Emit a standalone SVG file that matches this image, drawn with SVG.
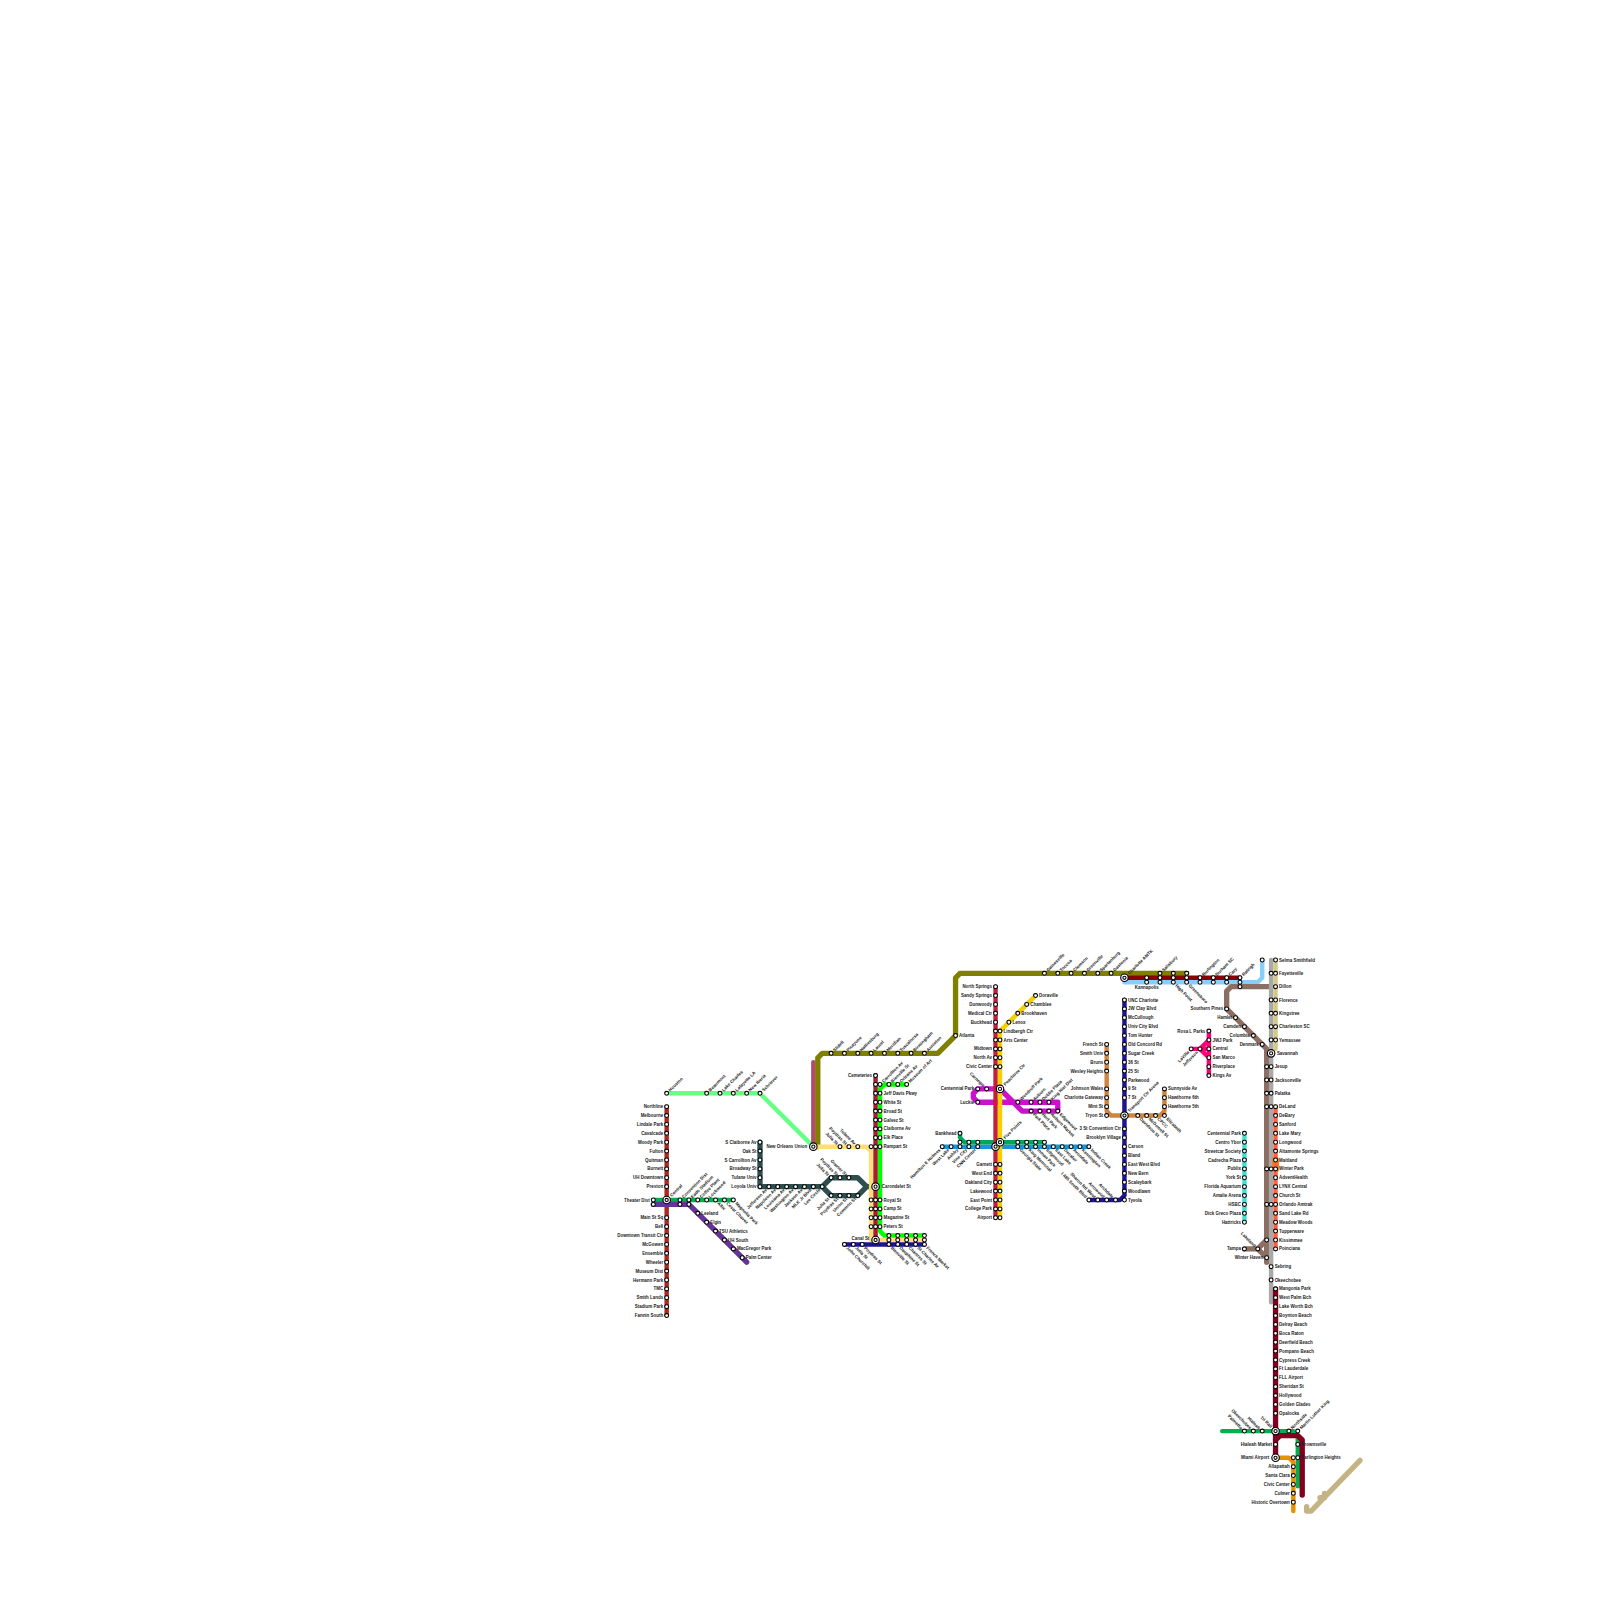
<svg xmlns="http://www.w3.org/2000/svg" width="1600" height="1600" viewBox="0 0 1600 1600">
<style>
text{font-family:"Liberation Sans",Arial,sans-serif;font-size:.5px;font-weight:700;fill:#222}
.e{text-anchor:end}
.c{text-anchor:middle}
.s{fill:#fff;stroke:#000;stroke-width:.12;r:.22px}
.i{fill:#fff;stroke:#000;stroke-width:.13}
.i+.s{r:.18px}
#connectors path{fill:none;stroke-width:.5;stroke-linecap:round;stroke-linejoin:round}
#connectors path.w{stroke-width:.6}
#nodes{opacity:.999}
</style>
<rect width="1600" height="1600" fill="#fff"/>
<g transform="scale(8.8889)">
<g id="connectors">
<path stroke="#a82a20" d="M75 124.5V148"/>
<path stroke="#00b050" d="M73.5 135H82.5"/>
<path class="w" stroke="#663399" d="M73.5 135.5H77.5L84 142"/>
<path stroke="#66ff88" d="M75 123H85.5L91.5 129"/>
<path class="w" stroke="#2f4f4f" d="M85.5 128.5V133.5H92.5L93.5 132.5H96.5L97.5 133.5H98.5M92.5 133.5L93.5 134.5H96.5L97.5 133.5"/>
<path stroke="#b5496f" d="M91.5 129V119.5"/>
<path class="w" stroke="#808000" d="M92 129V119L92.5 118.5H105.5L107.5 116.5V110L108 109.5H133.5"/>
<path stroke="#ffdd77" d="M91.5 129H97.5L98 129.5V139.5H104"/>
<path stroke="#00ff00" d="M102 122H99.5L99 122.5V138.5L99.5 139H104"/>
<path stroke="#a3202e" d="M98.5 121V139.5"/>
<path stroke="#1c1490" d="M95 140H104"/>
<path class="w" stroke="#cc11cc" d="M112.5 122.5H110L109.5 123V123.5L110 124H119V125H116M112.5 122.5L115 125H116"/>
<path stroke="#1b95d8" d="M106 129H122.5"/>
<path stroke="#00a65a" d="M108 127.5V128L108.5 128.5H117.5"/>
<path stroke="#c41e3a" d="M112 111V137"/>
<path stroke="#f5d000" d="M116.5 112L112.5 116V137"/>
<path stroke="#cd853f" d="M124.5 117.5V125L125 125.5H130.5L131 125V122.5"/>
<path stroke="#1c1490" d="M126.5 112.5V134.5L126 135H122.5"/>
<path stroke="#87cefa" d="M126.5 110.5H141.5L142 110V108"/>
<path stroke="#8b0000" d="M126.5 110H139.5"/>
<path stroke="#ff0077" d="M136 116V121M134 118H136M135 118L136 117M135 118L136 119"/>
<path stroke="#40e0d0" d="M140 127.5V137.5"/>
<path class="w" stroke="#8d6e63" d="M143 111H138.5L138 111.5V113.5L142.5 118V142M140 140.5H141.5L142.5 139.5M141.5 140.5L142.6 141.6"/>
<path stroke="#a9a9a9" d="M143 108V146.5"/>
<path stroke="#d4c98a" d="M143.5 108V118"/>
<path stroke="#e69100" style="stroke-width:.8" d="M143.5 130.5V131.5"/>
<path stroke="#ff6347" d="M143.5 124.5V140.5"/>
<path stroke="#00b050" d="M137.5 161H145.5L146 161.5V167.2"/>
<path stroke="#e69100" d="M143.5 164H145L145.5 164.5V170"/>
<path class="w" stroke="#800020" d="M143.5 145V164M143.5 162L144 161.5H146L146.5 162V168.2"/>
<path class="w" stroke="#c4b484" d="M147 169.5V170H147.5L153 164.3M148.5 168.5H149V168"/>
</g>
<g id="nodes">
<g id="h-houston"><circle class="s" cx="75" cy="123" r=".2"/><text transform="translate(75 123) rotate(-45)" x=".42" y=".17">Houston</text></g>
<g id="h-beaumont"><circle class="s" cx="79.5" cy="123" r=".2"/><text transform="translate(79.5 123) rotate(-45)" x=".42" y=".17">Beaumont</text></g>
<g id="h-lake-charles"><circle class="s" cx="81" cy="123" r=".2"/><text transform="translate(81 123) rotate(-45)" x=".42" y=".17">Lake Charles</text></g>
<g id="h-lafayette"><circle class="s" cx="82.5" cy="123" r=".2"/><text transform="translate(82.5 123) rotate(-45)" x=".42" y=".17">Lafayette LA</text></g>
<g id="h-new-iberia"><circle class="s" cx="84" cy="123" r=".2"/><text transform="translate(84 123) rotate(-45)" x=".42" y=".17">New Iberia</text></g>
<g id="h-schriever"><circle class="s" cx="85.5" cy="123" r=".2"/><text transform="translate(85.5 123) rotate(-45)" x=".42" y=".17">Schriever</text></g>
<g id="hr-northline"><circle class="s" cx="75" cy="124.5" r=".2"/><text class="e" x="74.6" y="124.67">Northline</text></g>
<g id="hr-melbourne"><circle class="s" cx="75" cy="125.5" r=".2"/><text class="e" x="74.6" y="125.67">Melbourne</text></g>
<g id="hr-lindale"><circle class="s" cx="75" cy="126.5" r=".2"/><text class="e" x="74.6" y="126.67">Lindale Park</text></g>
<g id="hr-cavalcade"><circle class="s" cx="75" cy="127.5" r=".2"/><text class="e" x="74.6" y="127.67">Cavalcade</text></g>
<g id="hr-moody"><circle class="s" cx="75" cy="128.5" r=".2"/><text class="e" x="74.6" y="128.67">Moody Park</text></g>
<g id="hr-fulton"><circle class="s" cx="75" cy="129.5" r=".2"/><text class="e" x="74.6" y="129.67">Fulton</text></g>
<g id="hr-quitman"><circle class="s" cx="75" cy="130.5" r=".2"/><text class="e" x="74.6" y="130.67">Quitman</text></g>
<g id="hr-burnett"><circle class="s" cx="75" cy="131.5" r=".2"/><text class="e" x="74.6" y="131.67">Burnett</text></g>
<g id="hr-uh-downtown"><circle class="s" cx="75" cy="132.5" r=".2"/><text class="e" x="74.6" y="132.67">UH Downtown</text></g>
<g id="hr-preston"><circle class="s" cx="75" cy="133.5" r=".2"/><text class="e" x="74.6" y="133.67">Preston</text></g>
<g id="hr-main"><circle class="s" cx="75" cy="137" r=".2"/><text class="e" x="74.6" y="137.17">Main St Sq</text></g>
<g id="hr-bell"><circle class="s" cx="75" cy="138" r=".2"/><text class="e" x="74.6" y="138.17">Bell</text></g>
<g id="hr-dtc"><circle class="s" cx="75" cy="139" r=".2"/><text class="e" x="74.6" y="139.17">Downtown Transit Ctr</text></g>
<g id="hr-mcgowen"><circle class="s" cx="75" cy="140" r=".2"/><text class="e" x="74.6" y="140.17">McGowen</text></g>
<g id="hr-ensemble"><circle class="s" cx="75" cy="141" r=".2"/><text class="e" x="74.6" y="141.17">Ensemble</text></g>
<g id="hr-wheeler"><circle class="s" cx="75" cy="142" r=".2"/><text class="e" x="74.6" y="142.17">Wheeler</text></g>
<g id="hr-museum"><circle class="s" cx="75" cy="143" r=".2"/><text class="e" x="74.6" y="143.17">Museum Dist</text></g>
<g id="hr-hermann"><circle class="s" cx="75" cy="144" r=".2"/><text class="e" x="74.6" y="144.17">Hermann Park</text></g>
<g id="hr-tmc"><circle class="s" cx="75" cy="145" r=".2"/><text class="e" x="74.6" y="145.17">TMC</text></g>
<g id="hr-smith"><circle class="s" cx="75" cy="146" r=".2"/><text class="e" x="74.6" y="146.17">Smith Lands</text></g>
<g id="hr-stadium"><circle class="s" cx="75" cy="147" r=".2"/><text class="e" x="74.6" y="147.17">Stadium Park</text></g>
<g id="hr-fannin"><circle class="s" cx="75" cy="148" r=".2"/><text class="e" x="74.6" y="148.17">Fannin South</text></g>
<g id="hr-central"><circle class="i" cx="75" cy="135" r=".42"/><circle class="s" cx="75" cy="135" r=".18"/><text transform="translate(75 135) rotate(-45)" x=".65" y=".17">Central</text></g>
<g id="hg-theater"><circle class="s" cx="73.5" cy="135" r=".2"/><circle class="s" cx="73.5" cy="135.5" r=".2"/><text class="e" x="73.1" y="135.17">Theater Dist</text></g>
<g id="hg-convention"><circle class="s" cx="76.5" cy="135" r=".2"/><circle class="s" cx="76.5" cy="135.5" r=".2"/><text transform="translate(76.5 135) rotate(-45)" x=".42" y=".17">Convention Dist</text></g>
<g id="hg-eado"><circle class="s" cx="77.5" cy="135" r=".2"/><circle class="s" cx="77.5" cy="135.5" r=".2"/><text transform="translate(77.5 135) rotate(-45)" x=".42" y=".17">Eado Stadium</text></g>
<g id="hg-coffee"><circle class="s" cx="78.5" cy="135" r=".2"/><text transform="translate(78.5 135) rotate(-45)" x=".42" y=".17">Coffee Plant</text></g>
<g id="hg-lockwood"><circle class="s" cx="79.5" cy="135" r=".2"/><text transform="translate(79.5 135) rotate(-45)" x=".42" y=".17">Lockwood</text></g>
<g id="hg-altic"><circle class="s" cx="80.5" cy="135" r=".2"/><text transform="translate(80.5 135) rotate(45)" x=".42" y=".17">Altic</text></g>
<g id="hg-cesar"><circle class="s" cx="81.5" cy="135" r=".2"/><text transform="translate(81.5 135) rotate(45)" x=".42" y=".17">Cesar Chavez</text></g>
<g id="hg-magnolia"><circle class="s" cx="82.5" cy="135" r=".2"/><text transform="translate(82.5 135) rotate(45)" x=".42" y=".17">Magnolia Park</text></g>
<g id="hp-leeland"><circle class="s" cx="78.5" cy="136.5" r=".2"/><text x="78.9" y="136.67">Leeland</text></g>
<g id="hp-elgin"><circle class="s" cx="79.5" cy="137.5" r=".2"/><text x="79.9" y="137.67">Elgin</text></g>
<g id="hp-tsu"><circle class="s" cx="80.5" cy="138.5" r=".2"/><text x="80.9" y="138.67">TSU Athletics</text></g>
<g id="hp-uhs"><circle class="s" cx="81.5" cy="139.5" r=".2"/><text x="81.9" y="139.67">UH South</text></g>
<g id="hp-macgregor"><circle class="s" cx="82.5" cy="140.5" r=".2"/><text x="82.9" y="140.67">MacGregor Park</text></g>
<g id="hp-palm"><circle class="s" cx="83.5" cy="141.5" r=".2"/><text x="83.9" y="141.67">Palm Center</text></g>
<g id="no-sclaiborne"><circle class="s" cx="85.5" cy="128.5" r=".2"/><text class="e" x="85.1" y="128.67">S Claiborne Av</text></g>
<g id="no-oak"><circle class="s" cx="85.5" cy="129.5" r=".2"/><text class="e" x="85.1" y="129.67">Oak St</text></g>
<g id="no-carrollton"><circle class="s" cx="85.5" cy="130.5" r=".2"/><text class="e" x="85.1" y="130.67">S Carrollton Av</text></g>
<g id="no-broadway"><circle class="s" cx="85.5" cy="131.5" r=".2"/><text class="e" x="85.1" y="131.67">Broadway St</text></g>
<g id="no-tulane"><circle class="s" cx="85.5" cy="132.5" r=".2"/><text class="e" x="85.1" y="132.67">Tulane Univ</text></g>
<g id="no-loyola"><circle class="s" cx="85.5" cy="133.5" r=".2"/><text class="e" x="85.1" y="133.67">Loyola Univ</text></g>
<g id="no-jefferson"><circle class="s" cx="86.5" cy="133.5" r=".2"/><text class="e" transform="translate(86.5 133.5) rotate(-45)" x="-.42" y=".17">Jefferson Av</text></g>
<g id="no-napoleon"><circle class="s" cx="87.5" cy="133.5" r=".2"/><text class="e" transform="translate(87.5 133.5) rotate(-45)" x="-.42" y=".17">Napoleon Av</text></g>
<g id="no-louisiana"><circle class="s" cx="88.5" cy="133.5" r=".2"/><text class="e" transform="translate(88.5 133.5) rotate(-45)" x="-.42" y=".17">Louisiana Av</text></g>
<g id="no-washington"><circle class="s" cx="89.5" cy="133.5" r=".2"/><text class="e" transform="translate(89.5 133.5) rotate(-45)" x="-.42" y=".17">Washington Av</text></g>
<g id="no-jackson"><circle class="s" cx="90.5" cy="133.5" r=".2"/><text class="e" transform="translate(90.5 133.5) rotate(-45)" x="-.42" y=".17">Jackson Av</text></g>
<g id="no-mlk"><circle class="s" cx="91.5" cy="133.5" r=".2"/><text class="e" transform="translate(91.5 133.5) rotate(-45)" x="-.42" y=".17">MLK Jr Blvd</text></g>
<g id="no-lee"><circle class="s" cx="92.5" cy="133.5" r=".2"/><text class="e" transform="translate(92.5 133.5) rotate(-45)" x="-.42" y=".17">Lee Circle</text></g>
<g id="no-u-julia"><circle class="s" cx="93.5" cy="132.5" r=".2"/><text class="e" transform="translate(93.5 132.5) rotate(45)" x="-.42" y=".17">Julia St</text></g>
<g id="no-u-poydras"><circle class="s" cx="94.5" cy="132.5" r=".2"/><text class="e" transform="translate(94.5 132.5) rotate(45)" x="-.42" y=".17">Poydras St</text></g>
<g id="no-u-gravier"><circle class="s" cx="95.5" cy="132.5" r=".2"/><text class="e" transform="translate(95.5 132.5) rotate(45)" x="-.42" y=".17">Gravier St</text></g>
<g id="no-l-julia"><circle class="s" cx="93.5" cy="134.5" r=".2"/><text class="e" transform="translate(93.5 134.5) rotate(-45)" x="-.42" y=".17">Julia St</text></g>
<g id="no-l-poydras"><circle class="s" cx="94.5" cy="134.5" r=".2"/><text class="e" transform="translate(94.5 134.5) rotate(-45)" x="-.42" y=".17">Poydras St</text></g>
<g id="no-l-union"><circle class="s" cx="95.5" cy="134.5" r=".2"/><text class="e" transform="translate(95.5 134.5) rotate(-45)" x="-.42" y=".17">Union St</text></g>
<g id="no-l-common"><circle class="s" cx="96.5" cy="134.5" r=".2"/><text class="e" transform="translate(96.5 134.5) rotate(-45)" x="-.42" y=".17">Common St</text></g>
<g id="no-union"><circle class="i" cx="91.5" cy="129" r=".42"/><circle class="s" cx="91.5" cy="129" r=".18"/><text class="e" x="90.8" y="129.17">New Orleans Union</text></g>
<g id="no-y-julia"><circle class="s" cx="94.5" cy="129" r=".2"/><text class="e" transform="translate(94.5 129) rotate(45)" x="-.42" y=".17">Julia St</text></g>
<g id="no-y-poydras"><circle class="s" cx="95.5" cy="129" r=".2"/><text class="e" transform="translate(95.5 129) rotate(45)" x="-.42" y=".17">Poydras St</text></g>
<g id="no-y-tulane"><circle class="s" cx="96.5" cy="129" r=".2"/><text class="e" transform="translate(96.5 129) rotate(45)" x="-.42" y=".17">Tulane Av</text></g>
<g id="no-cemeteries"><circle class="s" cx="98.5" cy="121" r=".2"/><text class="e" x="98.1" y="121.17">Cemeteries</text></g>
<g id="no-carrollton-av"><circle class="s" cx="98.5" cy="122" r=".2"/><circle class="s" cx="99" cy="122" r=".2"/><text transform="translate(99 122) rotate(-45)" x=".42" y=".17">Carrollton Av</text></g>
<g id="no-bienville"><circle class="s" cx="100" cy="122" r=".2"/><text transform="translate(100 122) rotate(-45)" x=".42" y=".17">Bienville St</text></g>
<g id="no-orleans"><circle class="s" cx="101" cy="122" r=".2"/><text transform="translate(101 122) rotate(-45)" x=".42" y=".17">Orleans Av</text></g>
<g id="no-museum"><circle class="s" cx="102" cy="122" r=".2"/><text transform="translate(102 122) rotate(-45)" x=".42" y=".17">Museum of Art</text></g>
<g id="no-jeff"><circle class="s" cx="98.5" cy="123" r=".2"/><circle class="s" cx="99" cy="123" r=".2"/><text x="99.4" y="123.17">Jeff Davis Pkwy</text></g>
<g id="no-white"><circle class="s" cx="98.5" cy="124" r=".2"/><circle class="s" cx="99" cy="124" r=".2"/><text x="99.4" y="124.17">White St</text></g>
<g id="no-broad"><circle class="s" cx="98.5" cy="125" r=".2"/><circle class="s" cx="99" cy="125" r=".2"/><text x="99.4" y="125.17">Broad St</text></g>
<g id="no-galvez"><circle class="s" cx="98.5" cy="126" r=".2"/><circle class="s" cx="99" cy="126" r=".2"/><text x="99.4" y="126.17">Galvez St</text></g>
<g id="no-claiborne"><circle class="s" cx="98.5" cy="127" r=".2"/><circle class="s" cx="99" cy="127" r=".2"/><text x="99.4" y="127.17">Claiborne Av</text></g>
<g id="no-elk"><circle class="s" cx="98.5" cy="128" r=".2"/><circle class="s" cx="99" cy="128" r=".2"/><text x="99.4" y="128.17">Elk Place</text></g>
<g id="no-rampart"><circle class="s" cx="98" cy="129" r=".2"/><circle class="s" cx="98.5" cy="129" r=".2"/><circle class="s" cx="99" cy="129" r=".2"/><text x="99.4" y="129.17">Rampart St</text></g>
<g id="no-carondelet"><circle class="i" cx="98.5" cy="133.5" r=".42"/><circle class="s" cx="98.5" cy="133.5" r=".18"/><text x="99.2" y="133.67">Carondelet St</text></g>
<g id="no-royal"><circle class="s" cx="98" cy="135" r=".2"/><circle class="s" cx="98.5" cy="135" r=".2"/><circle class="s" cx="99" cy="135" r=".2"/><text x="99.4" y="135.17">Royal St</text></g>
<g id="no-camp"><circle class="s" cx="98" cy="136" r=".2"/><circle class="s" cx="98.5" cy="136" r=".2"/><circle class="s" cx="99" cy="136" r=".2"/><text x="99.4" y="136.17">Camp St</text></g>
<g id="no-magazine"><circle class="s" cx="98" cy="137" r=".2"/><circle class="s" cx="98.5" cy="137" r=".2"/><circle class="s" cx="99" cy="137" r=".2"/><text x="99.4" y="137.17">Magazine St</text></g>
<g id="no-peters"><circle class="s" cx="98" cy="138" r=".2"/><circle class="s" cx="98.5" cy="138" r=".2"/><circle class="s" cx="99" cy="138" r=".2"/><text x="99.4" y="138.17">Peters St</text></g>
<g id="no-canal"><circle class="i" cx="98.5" cy="139.5" r=".42"/><circle class="s" cx="98.5" cy="139.5" r=".18"/><text class="e" x="97.8" y="139.55">Canal St</text></g>
<g id="no-john"><circle class="s" cx="95" cy="140" r=".2"/><text transform="translate(95 140) rotate(45)" x=".42" y=".17">John Churchill</text></g>
<g id="no-c-julia"><circle class="s" cx="96" cy="140" r=".2"/><text transform="translate(96 140) rotate(45)" x=".42" y=".17">Julia St</text></g>
<g id="no-c-poydras"><circle class="s" cx="97" cy="140" r=".2"/><text transform="translate(97 140) rotate(45)" x=".42" y=".17">Poydras St</text></g>
<g id="no-c-bienville"><circle class="s" cx="100" cy="139" r=".2"/><circle class="s" cx="100" cy="139.5" r=".2"/><circle class="s" cx="100" cy="140" r=".2"/><text transform="translate(100 140) rotate(45)" x=".42" y=".17">Bienville St</text></g>
<g id="no-c-dauphine"><circle class="s" cx="101" cy="139" r=".2"/><circle class="s" cx="101" cy="139.5" r=".2"/><circle class="s" cx="101" cy="140" r=".2"/><text transform="translate(101 140) rotate(45)" x=".42" y=".17">Dauphine St</text></g>
<g id="no-c-chartres"><circle class="s" cx="102" cy="139" r=".2"/><circle class="s" cx="102" cy="139.5" r=".2"/><circle class="s" cx="102" cy="140" r=".2"/><text transform="translate(102 140) rotate(45)" x=".42" y=".17">Chartres St</text></g>
<g id="no-c-stcharles"><circle class="s" cx="103" cy="139" r=".2"/><circle class="s" cx="103" cy="139.5" r=".2"/><circle class="s" cx="103" cy="140" r=".2"/><text transform="translate(103 140) rotate(45)" x=".42" y=".17">St Charles Av</text></g>
<g id="no-c-french"><circle class="s" cx="104" cy="139" r=".2"/><circle class="s" cx="104" cy="139.5" r=".2"/><circle class="s" cx="104" cy="140" r=".2"/><text transform="translate(104 140) rotate(45)" x=".42" y=".17">French Market</text></g>
<g id="c-slidell"><circle class="s" cx="93.5" cy="118.5" r=".2"/><text transform="translate(93.5 118.5) rotate(-45)" x=".42" y=".17">Slidell</text></g>
<g id="c-picayune"><circle class="s" cx="95" cy="118.5" r=".2"/><text transform="translate(95 118.5) rotate(-45)" x=".42" y=".17">Picayune</text></g>
<g id="c-hattiesburg"><circle class="s" cx="96.5" cy="118.5" r=".2"/><text transform="translate(96.5 118.5) rotate(-45)" x=".42" y=".17">Hattiesburg</text></g>
<g id="c-laurel"><circle class="s" cx="98" cy="118.5" r=".2"/><text transform="translate(98 118.5) rotate(-45)" x=".42" y=".17">Laurel</text></g>
<g id="c-meridian"><circle class="s" cx="99.5" cy="118.5" r=".2"/><text transform="translate(99.5 118.5) rotate(-45)" x=".42" y=".17">Meridian</text></g>
<g id="c-tuscaloosa"><circle class="s" cx="101" cy="118.5" r=".2"/><text transform="translate(101 118.5) rotate(-45)" x=".42" y=".17">Tuscaloosa</text></g>
<g id="c-birmingham"><circle class="s" cx="102.5" cy="118.5" r=".2"/><text transform="translate(102.5 118.5) rotate(-45)" x=".42" y=".17">Birmingham</text></g>
<g id="c-anniston"><circle class="s" cx="104" cy="118.5" r=".2"/><text transform="translate(104 118.5) rotate(-45)" x=".42" y=".17">Anniston</text></g>
<g id="c-atlanta"><circle class="s" cx="107.5" cy="116.5" r=".2"/><text x="107.9" y="116.67">Atlanta</text></g>
<g id="c-gainesville"><circle class="s" cx="117.5" cy="109.5" r=".2"/><text transform="translate(117.5 109.5) rotate(-45)" x=".42" y=".17">Gainesville</text></g>
<g id="c-toccoa"><circle class="s" cx="119" cy="109.5" r=".2"/><text transform="translate(119 109.5) rotate(-45)" x=".42" y=".17">Toccoa</text></g>
<g id="c-clemson"><circle class="s" cx="120.5" cy="109.5" r=".2"/><text transform="translate(120.5 109.5) rotate(-45)" x=".42" y=".17">Clemson</text></g>
<g id="c-greenville"><circle class="s" cx="122" cy="109.5" r=".2"/><text transform="translate(122 109.5) rotate(-45)" x=".42" y=".17">Greenville</text></g>
<g id="c-spartanburg"><circle class="s" cx="123.5" cy="109.5" r=".2"/><text transform="translate(123.5 109.5) rotate(-45)" x=".42" y=".17">Spartanburg</text></g>
<g id="c-gastonia"><circle class="s" cx="125" cy="109.5" r=".2"/><text transform="translate(125 109.5) rotate(-45)" x=".42" y=".17">Gastonia</text></g>
<g id="c-charlotte"><circle class="i" cx="126.5" cy="110" r=".42"/><circle class="s" cx="126.5" cy="110" r=".18"/><text transform="translate(126.5 110) rotate(-45)" x=".65" y=".17">Charlotte AMTK</text></g>
<g id="c-kannapolis"><circle class="s" cx="129" cy="110" r=".2"/><circle class="s" cx="129" cy="110.5" r=".2"/><text class="c" x="129" y="111.25">Kannapolis</text></g>
<g id="c-salisbury"><circle class="s" cx="130.5" cy="109.5" r=".2"/><circle class="s" cx="130.5" cy="110" r=".2"/><circle class="s" cx="130.5" cy="110.5" r=".2"/><text transform="translate(130.5 109.5) rotate(-45)" x=".42" y=".17">Salisbury</text></g>
<g id="c-highpoint"><circle class="s" cx="132" cy="109.5" r=".2"/><circle class="s" cx="132" cy="110" r=".2"/><circle class="s" cx="132" cy="110.5" r=".2"/><text transform="translate(132 110.5) rotate(45)" x=".42" y=".17">High Point</text></g>
<g id="c-greensboro"><circle class="s" cx="133.5" cy="109.5" r=".2"/><circle class="s" cx="133.5" cy="110" r=".2"/><circle class="s" cx="133.5" cy="110.5" r=".2"/><text transform="translate(133.5 110.5) rotate(45)" x=".42" y=".17">Greensboro</text></g>
<g id="c-burlington"><circle class="s" cx="135" cy="110" r=".2"/><circle class="s" cx="135" cy="110.5" r=".2"/><text transform="translate(135 110) rotate(-45)" x=".42" y=".17">Burlington</text></g>
<g id="c-durham"><circle class="s" cx="136.5" cy="110" r=".2"/><circle class="s" cx="136.5" cy="110.5" r=".2"/><text transform="translate(136.5 110) rotate(-45)" x=".42" y=".17">Durham SC</text></g>
<g id="c-cary"><circle class="s" cx="138" cy="110" r=".2"/><circle class="s" cx="138" cy="110.5" r=".2"/><text transform="translate(138 110) rotate(-45)" x=".42" y=".17">Cary</text></g>
<g id="c-raleigh"><circle class="s" cx="139.5" cy="110" r=".2"/><circle class="s" cx="139.5" cy="110.5" r=".2"/><circle class="s" cx="139.5" cy="111" r=".2"/><text transform="translate(139.5 110) rotate(-45)" x=".42" y=".17">Raleigh</text></g>
<g id="a-north-springs"><circle class="s" cx="112" cy="111" r=".2"/><text class="e" x="111.6" y="111.17">North Springs</text></g>
<g id="a-sandy"><circle class="s" cx="112" cy="112" r=".2"/><text class="e" x="111.6" y="112.17">Sandy Springs</text></g>
<g id="a-dunwoody"><circle class="s" cx="112" cy="113" r=".2"/><text class="e" x="111.6" y="113.17">Dunwoody</text></g>
<g id="a-medical"><circle class="s" cx="112" cy="114" r=".2"/><text class="e" x="111.6" y="114.17">Medical Ctr</text></g>
<g id="a-buckhead"><circle class="s" cx="112" cy="115" r=".2"/><text class="e" x="111.6" y="115.17">Buckhead</text></g>
<g id="a-doraville"><circle class="s" cx="116.5" cy="112" r=".2"/><text x="116.9" y="112.17">Doraville</text></g>
<g id="a-chamblee"><circle class="s" cx="115.5" cy="113" r=".2"/><text x="115.9" y="113.17">Chamblee</text></g>
<g id="a-brookhaven"><circle class="s" cx="114.5" cy="114" r=".2"/><text x="114.9" y="114.17">Brookhaven</text></g>
<g id="a-lenox"><circle class="s" cx="113.5" cy="115" r=".2"/><text x="113.9" y="115.17">Lenox</text></g>
<g id="a-lindbergh"><circle class="s" cx="112" cy="116" r=".2"/><circle class="s" cx="112.5" cy="116" r=".2"/><text x="112.9" y="116.17">Lindbergh Ctr</text></g>
<g id="a-arts"><circle class="s" cx="112" cy="117" r=".2"/><circle class="s" cx="112.5" cy="117" r=".2"/><text x="112.9" y="117.17">Arts Center</text></g>
<g id="a-midtown"><circle class="s" cx="112" cy="118" r=".2"/><circle class="s" cx="112.5" cy="118" r=".2"/><text class="e" x="111.6" y="118.17">Midtown</text></g>
<g id="a-northav"><circle class="s" cx="112" cy="119" r=".2"/><circle class="s" cx="112.5" cy="119" r=".2"/><text class="e" x="111.6" y="119.17">North Av</text></g>
<g id="a-civic"><circle class="s" cx="112" cy="120" r=".2"/><circle class="s" cx="112.5" cy="120" r=".2"/><text class="e" x="111.6" y="120.17">Civic Center</text></g>
<g id="a-peachtree"><circle class="i" cx="112.5" cy="122.5" r=".42"/><circle class="s" cx="112.5" cy="122.5" r=".18"/><text transform="translate(112.5 122.5) rotate(-45)" x=".65" y=".17">Peachtree Ctr</text></g>
<g id="a-centennial"><circle class="s" cx="110" cy="122.5" r=".2"/><text class="e" x="109.6" y="122.67">Centennial Park</text></g>
<g id="a-carnegie"><circle class="s" cx="111" cy="122.5" r=".2"/><text class="e" transform="translate(111 122.5) rotate(45)" x="-.42" y=".17">Carnegie</text></g>
<g id="a-luckie"><circle class="s" cx="110" cy="124" r=".2"/><text class="e" x="109.6" y="124.17">Luckie</text></g>
<g id="a-woodruff"><circle class="s" cx="114.5" cy="124" r=".2"/><text transform="translate(114.5 124) rotate(-45)" x=".42" y=".17">Woodruff Park</text></g>
<g id="a-auburn"><circle class="s" cx="116" cy="124" r=".2"/><text transform="translate(116 124) rotate(-45)" x=".42" y=".17">Auburn</text></g>
<g id="a-dobbs"><circle class="s" cx="117" cy="124" r=".2"/><text transform="translate(117 124) rotate(-45)" x=".42" y=".17">Dobbs Plaza</text></g>
<g id="a-king"><circle class="s" cx="118" cy="124" r=".2"/><text transform="translate(118 124) rotate(-45)" x=".42" y=".17">King Hist Dist</text></g>
<g id="a-parkplace"><circle class="s" cx="116" cy="125" r=".2"/><text transform="translate(116 125) rotate(45)" x=".42" y=".17">Park Place</text></g>
<g id="a-hurt"><circle class="s" cx="117" cy="125" r=".2"/><text transform="translate(117 125) rotate(45)" x=".42" y=".17">Hurt Park</text></g>
<g id="a-market"><circle class="s" cx="118" cy="125" r=".2"/><text transform="translate(118 125) rotate(45)" x=".42" y=".17">Auburn Market</text></g>
<g id="a-edgewood"><circle class="s" cx="119" cy="125" r=".2"/><text transform="translate(119 125) rotate(45)" x=".42" y=".17">Edgewood</text></g>
<g id="a-bankhead"><circle class="s" cx="108" cy="127.5" r=".2"/><text class="e" x="107.6" y="127.67">Bankhead</text></g>
<g id="a-hamilton"><circle class="s" cx="106" cy="129" r=".2"/><text class="e" transform="translate(106 129) rotate(-45)" x="-.42" y=".17">Hamilton E Holmes</text></g>
<g id="a-westlake"><circle class="s" cx="107" cy="129" r=".2"/><text class="e" transform="translate(107 129) rotate(-45)" x="-.42" y=".17">West Lake</text></g>
<g id="a-ashby"><circle class="s" cx="108" cy="128.5" r=".2"/><circle class="s" cx="108" cy="129" r=".2"/><text class="e" transform="translate(108 129) rotate(-45)" x="-.42" y=".17">Ashby</text></g>
<g id="a-vinecity"><circle class="s" cx="109" cy="128.5" r=".2"/><circle class="s" cx="109" cy="129" r=".2"/><text class="e" transform="translate(109 129) rotate(-45)" x="-.42" y=".17">Vine City</text></g>
<g id="a-cnn"><circle class="s" cx="110" cy="128.5" r=".2"/><circle class="s" cx="110" cy="129" r=".2"/><text class="e" transform="translate(110 129) rotate(-45)" x="-.42" y=".17">CNN Center</text></g>
<g id="a-fivepoints"><circle class="i" cx="112" cy="129" r=".42"/><circle class="s" cx="112" cy="129" r=".18"/><circle class="i" cx="112.5" cy="128.5" r=".42"/><circle class="s" cx="112.5" cy="128.5" r=".18"/><text transform="translate(112.5 128.5) rotate(-45)" x=".65" y=".17">Five Points</text></g>
<g id="a-georgia"><circle class="s" cx="114.5" cy="128.5" r=".2"/><circle class="s" cx="114.5" cy="129" r=".2"/><text transform="translate(114.5 129) rotate(45)" x=".42" y=".17">Georgia State</text></g>
<g id="a-kingmem"><circle class="s" cx="115.5" cy="128.5" r=".2"/><circle class="s" cx="115.5" cy="129" r=".2"/><text transform="translate(115.5 129) rotate(45)" x=".42" y=".17">King Memorial</text></g>
<g id="a-inman"><circle class="s" cx="116.5" cy="128.5" r=".2"/><circle class="s" cx="116.5" cy="129" r=".2"/><text transform="translate(116.5 129) rotate(45)" x=".42" y=".17">Inman Park</text></g>
<g id="a-edgewood2"><circle class="s" cx="117.5" cy="128.5" r=".2"/><circle class="s" cx="117.5" cy="129" r=".2"/><text transform="translate(117.5 129) rotate(45)" x=".42" y=".17">Edgewood</text></g>
<g id="a-eastlake"><circle class="s" cx="118.5" cy="129" r=".2"/><text transform="translate(118.5 129) rotate(45)" x=".42" y=".17">East Lake</text></g>
<g id="a-decatur"><circle class="s" cx="119.5" cy="129" r=".2"/><text transform="translate(119.5 129) rotate(45)" x=".42" y=".17">Decatur</text></g>
<g id="a-avondale"><circle class="s" cx="120.5" cy="129" r=".2"/><text transform="translate(120.5 129) rotate(45)" x=".42" y=".17">Avondale</text></g>
<g id="a-kensington"><circle class="s" cx="121.5" cy="129" r=".2"/><text transform="translate(121.5 129) rotate(45)" x=".42" y=".17">Kensington</text></g>
<g id="a-indian"><circle class="s" cx="122.5" cy="129" r=".2"/><text transform="translate(122.5 129) rotate(45)" x=".42" y=".17">Indian Creek</text></g>
<g id="a-garnett"><circle class="s" cx="112" cy="131" r=".2"/><circle class="s" cx="112.5" cy="131" r=".2"/><text class="e" x="111.6" y="131.17">Garnett</text></g>
<g id="a-westend"><circle class="s" cx="112" cy="132" r=".2"/><circle class="s" cx="112.5" cy="132" r=".2"/><text class="e" x="111.6" y="132.17">West End</text></g>
<g id="a-oakland"><circle class="s" cx="112" cy="133" r=".2"/><circle class="s" cx="112.5" cy="133" r=".2"/><text class="e" x="111.6" y="133.17">Oakland City</text></g>
<g id="a-lakewood"><circle class="s" cx="112" cy="134" r=".2"/><circle class="s" cx="112.5" cy="134" r=".2"/><text class="e" x="111.6" y="134.17">Lakewood</text></g>
<g id="a-eastpoint"><circle class="s" cx="112" cy="135" r=".2"/><circle class="s" cx="112.5" cy="135" r=".2"/><text class="e" x="111.6" y="135.17">East Point</text></g>
<g id="a-college"><circle class="s" cx="112" cy="136" r=".2"/><circle class="s" cx="112.5" cy="136" r=".2"/><text class="e" x="111.6" y="136.17">College Park</text></g>
<g id="a-airport"><circle class="s" cx="112" cy="137" r=".2"/><circle class="s" cx="112.5" cy="137" r=".2"/><text class="e" x="111.6" y="137.17">Airport</text></g>
<g id="l-french"><circle class="s" cx="124.5" cy="117.5" r=".2"/><text class="e" x="124.1" y="117.67">French St</text></g>
<g id="l-smith"><circle class="s" cx="124.5" cy="118.5" r=".2"/><text class="e" x="124.1" y="118.67">Smith Univ</text></g>
<g id="l-bruns"><circle class="s" cx="124.5" cy="119.5" r=".2"/><text class="e" x="124.1" y="119.67">Bruns</text></g>
<g id="l-wesley"><circle class="s" cx="124.5" cy="120.5" r=".2"/><text class="e" x="124.1" y="120.67">Wesley Heights</text></g>
<g id="l-johnson"><circle class="s" cx="124.5" cy="122.5" r=".2"/><text class="e" x="124.1" y="122.67">Johnson Wales</text></g>
<g id="l-gateway"><circle class="s" cx="124.5" cy="123.5" r=".2"/><text class="e" x="124.1" y="123.67">Charlotte Gateway</text></g>
<g id="l-mint"><circle class="s" cx="124.5" cy="124.5" r=".2"/><text class="e" x="124.1" y="124.67">Mint St</text></g>
<g id="l-tryon"><circle class="s" cx="124.5" cy="125.5" r=".2"/><text class="e" x="124.1" y="125.67">Tryon St</text></g>
<g id="l-unc"><circle class="s" cx="126.5" cy="112.5" r=".2"/><text x="126.9" y="112.67">UNC Charlotte</text></g>
<g id="l-jw"><circle class="s" cx="126.5" cy="113.5" r=".2"/><text x="126.9" y="113.67">JW Clay Blvd</text></g>
<g id="l-mccullough"><circle class="s" cx="126.5" cy="114.5" r=".2"/><text x="126.9" y="114.67">McCullough</text></g>
<g id="l-univ"><circle class="s" cx="126.5" cy="115.5" r=".2"/><text x="126.9" y="115.67">Univ City Blvd</text></g>
<g id="l-tom"><circle class="s" cx="126.5" cy="116.5" r=".2"/><text x="126.9" y="116.67">Tom Hunter</text></g>
<g id="l-concord"><circle class="s" cx="126.5" cy="117.5" r=".2"/><text x="126.9" y="117.67">Old Concord Rd</text></g>
<g id="l-sugar"><circle class="s" cx="126.5" cy="118.5" r=".2"/><text x="126.9" y="118.67">Sugar Creek</text></g>
<g id="l-36"><circle class="s" cx="126.5" cy="119.5" r=".2"/><text x="126.9" y="119.67">36 St</text></g>
<g id="l-25"><circle class="s" cx="126.5" cy="120.5" r=".2"/><text x="126.9" y="120.67">25 St</text></g>
<g id="l-parkwood"><circle class="s" cx="126.5" cy="121.5" r=".2"/><text x="126.9" y="121.67">Parkwood</text></g>
<g id="l-9"><circle class="s" cx="126.5" cy="122.5" r=".2"/><text x="126.9" y="122.67">9 St</text></g>
<g id="l-7"><circle class="s" cx="126.5" cy="123.5" r=".2"/><text x="126.9" y="123.67">7 St</text></g>
<g id="l-transport"><circle class="i" cx="126.5" cy="125.5" r=".42"/><circle class="s" cx="126.5" cy="125.5" r=".18"/><text transform="translate(126.5 125.5) rotate(-45)" x=".65" y=".17">Transport Ctr Arena</text></g>
<g id="l-3"><circle class="s" cx="126.5" cy="127" r=".2"/><text class="e" x="126.1" y="127.17">3 St Convention Ctr</text></g>
<g id="l-brooklyn"><circle class="s" cx="126.5" cy="128" r=".2"/><text class="e" x="126.1" y="128.17">Brooklyn Village</text></g>
<g id="l-carson"><circle class="s" cx="126.5" cy="129" r=".2"/><text x="126.9" y="129.17">Carson</text></g>
<g id="l-bland"><circle class="s" cx="126.5" cy="130" r=".2"/><text x="126.9" y="130.17">Bland</text></g>
<g id="l-eastwest"><circle class="s" cx="126.5" cy="131" r=".2"/><text x="126.9" y="131.17">East West Blvd</text></g>
<g id="l-newbern"><circle class="s" cx="126.5" cy="132" r=".2"/><text x="126.9" y="132.17">New Bern</text></g>
<g id="l-scaleybark"><circle class="s" cx="126.5" cy="133" r=".2"/><text x="126.9" y="133.17">Scaleybark</text></g>
<g id="l-woodlawn"><circle class="s" cx="126.5" cy="134" r=".2"/><text x="126.9" y="134.17">Woodlawn</text></g>
<g id="l-tyvola"><circle class="s" cx="126.5" cy="135" r=".2"/><text x="126.9" y="135.17">Tyvola</text></g>
<g id="l-archdale"><circle class="s" cx="125.5" cy="135" r=".2"/><text class="e" transform="translate(125.5 135) rotate(45)" x="-.42" y=".17">Archdale</text></g>
<g id="l-arrowood"><circle class="s" cx="124.5" cy="135" r=".2"/><text class="e" transform="translate(124.5 135) rotate(45)" x="-.42" y=".17">Arrowood</text></g>
<g id="l-sharon"><circle class="s" cx="123.5" cy="135" r=".2"/><text class="e" transform="translate(123.5 135) rotate(45)" x="-.42" y=".17">Sharon Rd West</text></g>
<g id="l-i485"><circle class="s" cx="122.5" cy="135" r=".2"/><text class="e" transform="translate(122.5 135) rotate(45)" x="-.42" y=".17">I 485 South Blvd</text></g>
<g id="l-davidson"><circle class="s" cx="128" cy="125.5" r=".2"/><text transform="translate(128 125.5) rotate(45)" x=".42" y=".17">Davidson St</text></g>
<g id="l-mcdowell"><circle class="s" cx="129" cy="125.5" r=".2"/><text transform="translate(129 125.5) rotate(45)" x=".42" y=".17">McDowell St</text></g>
<g id="l-cpcc"><circle class="s" cx="130" cy="125.5" r=".2"/><text transform="translate(130 125.5) rotate(45)" x=".42" y=".17">CPCC</text></g>
<g id="l-elizabeth"><circle class="s" cx="131" cy="125.5" r=".2"/><text transform="translate(131 125.5) rotate(45)" x=".42" y=".17">Elizabeth</text></g>
<g id="l-haw5"><circle class="s" cx="131" cy="124.5" r=".2"/><text x="131.4" y="124.67">Hawthorne 5th</text></g>
<g id="l-haw6"><circle class="s" cx="131" cy="123.5" r=".2"/><text x="131.4" y="123.67">Hawthorne 6th</text></g>
<g id="l-sunnyside"><circle class="s" cx="131" cy="122.5" r=".2"/><text x="131.4" y="122.67">Sunnyside Av</text></g>
<g id="j-rosa"><circle class="s" cx="136" cy="116" r=".2"/><text class="e" x="135.6" y="116.17">Rosa L Parks</text></g>
<g id="j-jwj"><circle class="s" cx="136" cy="117" r=".2"/><text x="136.4" y="117.17">JWJ Park</text></g>
<g id="j-central"><circle class="s" cx="136" cy="118" r=".2"/><text x="136.4" y="118.17">Central</text></g>
<g id="j-sanmarco"><circle class="s" cx="136" cy="119" r=".2"/><text x="136.4" y="119.17">San Marco</text></g>
<g id="j-riverplace"><circle class="s" cx="136" cy="120" r=".2"/><text x="136.4" y="120.17">Riverplace</text></g>
<g id="j-kings"><circle class="s" cx="136" cy="121" r=".2"/><text x="136.4" y="121.17">Kings Av</text></g>
<g id="j-jefferson"><circle class="s" cx="135" cy="118" r=".2"/><text class="e" transform="translate(135 118) rotate(-45)" x="-.42" y=".17">Jefferson</text></g>
<g id="j-lavilla"><circle class="s" cx="134" cy="118" r=".2"/><text class="e" transform="translate(134 118) rotate(-45)" x="-.42" y=".17">LaVilla</text></g>
<g id="t-centennial"><circle class="s" cx="140" cy="127.5" r=".2"/><text class="e" x="139.6" y="127.67">Centennial Park</text></g>
<g id="t-ybor"><circle class="s" cx="140" cy="128.5" r=".2"/><text class="e" x="139.6" y="128.67">Centro Ybor</text></g>
<g id="t-streetcar"><circle class="s" cx="140" cy="129.5" r=".2"/><text class="e" x="139.6" y="129.67">Streetcar Society</text></g>
<g id="t-cadrecha"><circle class="s" cx="140" cy="130.5" r=".2"/><text class="e" x="139.6" y="130.67">Cadrecha Plaza</text></g>
<g id="t-publix"><circle class="s" cx="140" cy="131.5" r=".2"/><text class="e" x="139.6" y="131.67">Publix</text></g>
<g id="t-york"><circle class="s" cx="140" cy="132.5" r=".2"/><text class="e" x="139.6" y="132.67">York St</text></g>
<g id="t-aquarium"><circle class="s" cx="140" cy="133.5" r=".2"/><text class="e" x="139.6" y="133.67">Florida Aquarium</text></g>
<g id="t-amalie"><circle class="s" cx="140" cy="134.5" r=".2"/><text class="e" x="139.6" y="134.67">Amalie Arena</text></g>
<g id="t-hsbc"><circle class="s" cx="140" cy="135.5" r=".2"/><text class="e" x="139.6" y="135.67">HSBC</text></g>
<g id="t-greco"><circle class="s" cx="140" cy="136.5" r=".2"/><text class="e" x="139.6" y="136.67">Dick Greco Plaza</text></g>
<g id="t-hattricks"><circle class="s" cx="140" cy="137.5" r=".2"/><text class="e" x="139.6" y="137.67">Hattricks</text></g>
<g id="s-southern"><circle class="s" cx="138" cy="113.5" r=".2"/><text class="e" x="137.6" y="113.67">Southern Pines</text></g>
<g id="s-hamlet"><circle class="s" cx="139" cy="114.5" r=".2"/><text class="e" x="138.6" y="114.67">Hamlet</text></g>
<g id="s-camden"><circle class="s" cx="140" cy="115.5" r=".2"/><text class="e" x="139.6" y="115.67">Camden</text></g>
<g id="s-columbia"><circle class="s" cx="141" cy="116.5" r=".2"/><text class="e" x="140.6" y="116.67">Columbia</text></g>
<g id="s-denmark"><circle class="s" cx="142" cy="117.5" r=".2"/><text class="e" x="141.6" y="117.67">Denmark</text></g>
<g id="s-selma"><circle class="s" cx="142" cy="108" r=".2"/><circle class="s" cx="143.5" cy="108" r=".2"/><text x="143.9" y="108.17">Selma Smithfield</text></g>
<g id="s-fayetteville"><circle class="s" cx="143" cy="109.5" r=".2"/><circle class="s" cx="143.5" cy="109.5" r=".2"/><text x="143.9" y="109.67">Fayetteville</text></g>
<g id="s-dillon"><circle class="s" cx="143.5" cy="111" r=".2"/><text x="143.9" y="111.17">Dillon</text></g>
<g id="s-florence"><circle class="s" cx="143" cy="112.5" r=".2"/><circle class="s" cx="143.5" cy="112.5" r=".2"/><text x="143.9" y="112.67">Florence</text></g>
<g id="s-kingstree"><circle class="s" cx="143" cy="114" r=".2"/><circle class="s" cx="143.5" cy="114" r=".2"/><text x="143.9" y="114.17">Kingstree</text></g>
<g id="s-charleston"><circle class="s" cx="143" cy="115.5" r=".2"/><circle class="s" cx="143.5" cy="115.5" r=".2"/><text x="143.9" y="115.67">Charleston SC</text></g>
<g id="s-yemassee"><circle class="s" cx="143" cy="117" r=".2"/><circle class="s" cx="143.5" cy="117" r=".2"/><text x="143.9" y="117.17">Yemassee</text></g>
<g id="s-savannah"><circle class="i" cx="143" cy="118.5" r=".42"/><circle class="s" cx="143" cy="118.5" r=".18"/><text x="143.65" y="118.67">Savannah</text></g>
<g id="s-jesup"><circle class="s" cx="142.5" cy="120" r=".2"/><circle class="s" cx="143" cy="120" r=".2"/><text x="143.4" y="120.17">Jesup</text></g>
<g id="s-jacksonville"><circle class="s" cx="142.5" cy="121.5" r=".2"/><circle class="s" cx="143" cy="121.5" r=".2"/><text x="143.4" y="121.67">Jacksonville</text></g>
<g id="s-palatka"><circle class="s" cx="142.5" cy="123" r=".2"/><circle class="s" cx="143" cy="123" r=".2"/><text x="143.4" y="123.17">Palatka</text></g>
<g id="s-deland"><circle class="s" cx="142.5" cy="124.5" r=".2"/><circle class="s" cx="143" cy="124.5" r=".2"/><circle class="s" cx="143.5" cy="124.5" r=".2"/><text x="143.9" y="124.67">DeLand</text></g>
<g id="s-debary"><circle class="s" cx="143.5" cy="125.5" r=".2"/><text x="143.9" y="125.67">DeBary</text></g>
<g id="s-sanford"><circle class="s" cx="143.5" cy="126.5" r=".2"/><text x="143.9" y="126.67">Sanford</text></g>
<g id="s-lakemary"><circle class="s" cx="143.5" cy="127.5" r=".2"/><text x="143.9" y="127.67">Lake Mary</text></g>
<g id="s-longwood"><circle class="s" cx="143.5" cy="128.5" r=".2"/><text x="143.9" y="128.67">Longwood</text></g>
<g id="s-altamonte"><circle class="s" cx="143.5" cy="129.5" r=".2"/><text x="143.9" y="129.67">Altamonte Springs</text></g>
<g id="s-maitland"><circle class="s" cx="143.5" cy="130.5" r=".2"/><text x="143.9" y="130.67">Maitland</text></g>
<g id="s-winterpark"><circle class="s" cx="142.5" cy="131.5" r=".2"/><circle class="s" cx="143" cy="131.5" r=".2"/><circle class="s" cx="143.5" cy="131.5" r=".2"/><text x="143.9" y="131.67">Winter Park</text></g>
<g id="s-advent"><circle class="s" cx="143.5" cy="132.5" r=".2"/><text x="143.9" y="132.67">AdventHealth</text></g>
<g id="s-lynx"><circle class="s" cx="143.5" cy="133.5" r=".2"/><text x="143.9" y="133.67">LYNX Central</text></g>
<g id="s-church"><circle class="s" cx="143.5" cy="134.5" r=".2"/><text x="143.9" y="134.67">Church St</text></g>
<g id="s-orlando"><circle class="s" cx="142.5" cy="135.5" r=".2"/><circle class="s" cx="143" cy="135.5" r=".2"/><circle class="s" cx="143.5" cy="135.5" r=".2"/><text x="143.9" y="135.67">Orlando Amtrak</text></g>
<g id="s-sandlake"><circle class="s" cx="143.5" cy="136.5" r=".2"/><text x="143.9" y="136.67">Sand Lake Rd</text></g>
<g id="s-meadow"><circle class="s" cx="143.5" cy="137.5" r=".2"/><text x="143.9" y="137.67">Meadow Woods</text></g>
<g id="s-tupperware"><circle class="s" cx="143.5" cy="138.5" r=".2"/><text x="143.9" y="138.67">Tupperware</text></g>
<g id="s-kissimmee"><circle class="s" cx="143.5" cy="139.5" r=".2"/><text x="143.9" y="139.67">Kissimmee</text></g>
<g id="s-poinciana"><circle class="s" cx="143.5" cy="140.5" r=".2"/><text x="143.9" y="140.67">Poinciana</text></g>
<g id="s-lakeland-n"><circle class="s" cx="142.5" cy="139.5" r=".2"/></g>
<g id="s-lakeland"><circle class="s" cx="141.5" cy="140.5" r=".2"/><text class="e" transform="translate(141.5 140.5) rotate(45)" x="-.42" y=".17">Lakeland</text></g>
<g id="s-tampa"><circle class="s" cx="140" cy="140.5" r=".2"/><text class="e" x="139.6" y="140.67">Tampa</text></g>
<g id="s-winterhaven"><circle class="s" cx="142.5" cy="141.5" r=".2"/><text class="e" x="142.1" y="141.67">Winter Haven</text></g>
<g id="s-sebring"><circle class="s" cx="143" cy="142.5" r=".2"/><text x="143.4" y="142.67">Sebring</text></g>
<g id="s-okeechobee"><circle class="s" cx="143" cy="144" r=".2"/><text x="143.4" y="144.17">Okeechobee</text></g>
<g id="f-mangonia"><circle class="s" cx="143.5" cy="145" r=".2"/><text x="143.9" y="145.17">Mangonia Park</text></g>
<g id="f-wpb"><circle class="s" cx="143.5" cy="146" r=".2"/><text x="143.9" y="146.17">West Palm Bch</text></g>
<g id="f-lakeworth"><circle class="s" cx="143.5" cy="147" r=".2"/><text x="143.9" y="147.17">Lake Worth Bch</text></g>
<g id="f-boynton"><circle class="s" cx="143.5" cy="148" r=".2"/><text x="143.9" y="148.17">Boynton Beach</text></g>
<g id="f-delray"><circle class="s" cx="143.5" cy="149" r=".2"/><text x="143.9" y="149.17">Delray Beach</text></g>
<g id="f-boca"><circle class="s" cx="143.5" cy="150" r=".2"/><text x="143.9" y="150.17">Boca Raton</text></g>
<g id="f-deerfield"><circle class="s" cx="143.5" cy="151" r=".2"/><text x="143.9" y="151.17">Deerfield Beach</text></g>
<g id="f-pompano"><circle class="s" cx="143.5" cy="152" r=".2"/><text x="143.9" y="152.17">Pompano Beach</text></g>
<g id="f-cypress"><circle class="s" cx="143.5" cy="153" r=".2"/><text x="143.9" y="153.17">Cypress Creek</text></g>
<g id="f-ftl"><circle class="s" cx="143.5" cy="154" r=".2"/><text x="143.9" y="154.17">Ft Lauderdale</text></g>
<g id="f-fll"><circle class="s" cx="143.5" cy="155" r=".2"/><text x="143.9" y="155.17">FLL Airport</text></g>
<g id="f-sheridan"><circle class="s" cx="143.5" cy="156" r=".2"/><text x="143.9" y="156.17">Sheridan St</text></g>
<g id="f-hollywood"><circle class="s" cx="143.5" cy="157" r=".2"/><text x="143.9" y="157.17">Hollywood</text></g>
<g id="f-golden"><circle class="s" cx="143.5" cy="158" r=".2"/><text x="143.9" y="158.17">Golden Glades</text></g>
<g id="f-opalocka"><circle class="s" cx="143.5" cy="159" r=".2"/><text x="143.9" y="159.17">Opalocka</text></g>
<g id="f-palmetto"><circle class="s" cx="140" cy="161" r=".2"/><text class="e" transform="translate(140 161) rotate(45)" x="-.42" y=".17">Palmetto</text></g>
<g id="f-okeechobee"><circle class="s" cx="141" cy="161" r=".2"/><text class="e" transform="translate(141 161) rotate(45)" x="-.42" y=".17">Okeechobee</text></g>
<g id="f-hialeah"><circle class="s" cx="142" cy="161" r=".2"/><text class="e" transform="translate(142 161) rotate(45)" x="-.42" y=".17">Hialeah</text></g>
<g id="f-trirail"><circle class="i" cx="143.5" cy="161" r=".42"/><circle class="s" cx="143.5" cy="161" r=".18"/><text class="e" transform="translate(143.5 161) rotate(45)" x="-.65" y=".17">Tri Rail</text></g>
<g id="f-northside"><circle class="s" cx="145" cy="161" r=".2"/><text transform="translate(145 161) rotate(-45)" x=".42" y=".17">Northside</text></g>
<g id="f-mlk"><circle class="s" cx="146" cy="161" r=".2"/><text transform="translate(146 161) rotate(-45)" x=".42" y=".17">Martin Luther King</text></g>
<g id="f-hialeahm"><circle class="s" cx="143.5" cy="162.5" r=".2"/><text class="e" x="143.1" y="162.67">Hialeah Market</text></g>
<g id="f-miami"><circle class="i" cx="143.5" cy="164" r=".42"/><circle class="s" cx="143.5" cy="164" r=".18"/><text class="e" x="142.8" y="164.17">Miami Airport</text></g>
<g id="f-brownsville"><circle class="s" cx="146" cy="162.5" r=".2"/><text x="146.4" y="162.67">Brownsville</text></g>
<g id="f-earlington"><circle class="s" cx="145.5" cy="164" r=".2"/><circle class="s" cx="146" cy="164" r=".2"/><text x="146.4" y="164.17">Earlington Heights</text></g>
<g id="f-allapattah"><circle class="s" cx="145.5" cy="165" r=".2"/><text class="e" x="145.1" y="165.17">Allapattah</text></g>
<g id="f-santaclara"><circle class="s" cx="145.5" cy="166" r=".2"/><text class="e" x="145.1" y="166.17">Santa Clara</text></g>
<g id="f-civic"><circle class="s" cx="145.5" cy="167" r=".2"/><text class="e" x="145.1" y="167.17">Civic Center</text></g>
<g id="f-culmer"><circle class="s" cx="145.5" cy="168" r=".2"/><text class="e" x="145.1" y="168.17">Culmer</text></g>
<g id="f-overtown"><circle class="s" cx="145.5" cy="169" r=".2"/><text class="e" x="145.1" y="169.17">Historic Overtown</text></g>
</g>
</g>
</svg>
